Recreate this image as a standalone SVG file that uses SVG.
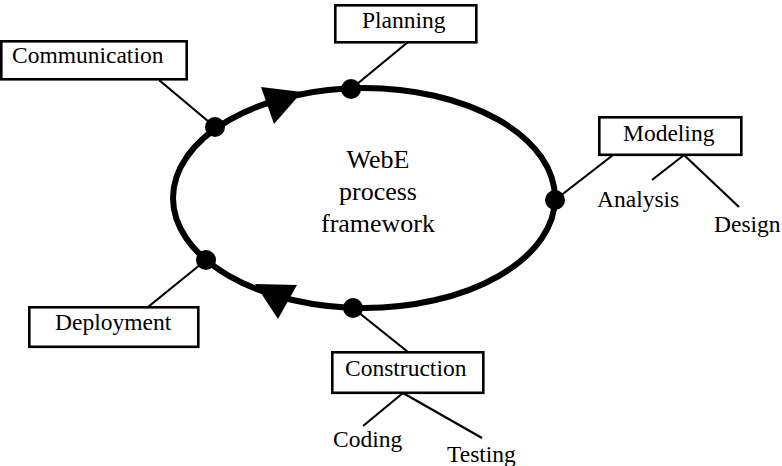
<svg xmlns="http://www.w3.org/2000/svg" width="782" height="466" viewBox="0 0 782 466">
<style>
.box{fill:#fff;stroke:#000;stroke-width:2.6}
.t{font-family:"Liberation Serif","Times New Roman",serif;font-size:23.5px;fill:#000}
.c{font-family:"Liberation Serif","Times New Roman",serif;font-size:26px;fill:#000;text-anchor:middle}
.ln{stroke:#000;stroke-width:2.2;fill:none}
.dot{fill:#000}
</style>
<rect width="782" height="466" fill="#fff"/>
<g id="cycle">
<ellipse cx="364" cy="198" rx="191" ry="110" fill="none" stroke="#000" stroke-width="6"/>
<polygon points="261,87 302,92 274,124" fill="#000"/>
<polygon points="255,284 297,285 278,319" fill="#000"/>
<text class="c" x="378" y="168">WebE</text>
<text class="c" x="378" y="200">process</text>
<text class="c" x="378" y="232">framework</text>
</g>
<g id="connectors">
<line class="ln" x1="159" y1="80" x2="215" y2="127"/>
<line class="ln" x1="351" y1="89" x2="408" y2="42"/>
<line class="ln" x1="555" y1="200" x2="613" y2="155"/>
<line class="ln" x1="684" y1="155" x2="652" y2="180" stroke-width="2.6"/>
<line class="ln" x1="684" y1="155" x2="739" y2="207" stroke-width="2.6"/>
<line class="ln" x1="206" y1="260" x2="148" y2="307"/>
<line class="ln" x1="353" y1="308" x2="408" y2="352"/>
<line class="ln" x1="403" y1="393" x2="363" y2="426" stroke-width="2.6"/>
<line class="ln" x1="403" y1="393" x2="482" y2="438" stroke-width="2.6"/>
</g>
<g id="dots">
<circle class="dot" cx="215" cy="127" r="10"/>
<circle class="dot" cx="351" cy="89" r="10"/>
<circle class="dot" cx="555" cy="200" r="10"/>
<circle class="dot" cx="206" cy="260" r="10"/>
<circle class="dot" cx="353" cy="308" r="10"/>
</g>
<g id="communication">
<rect class="box" x="1.3" y="41.3" width="185.4" height="38"/>
<text class="t" x="12" y="63">Communication</text>
</g>
<g id="planning">
<rect class="box" x="335.3" y="5.3" width="141" height="37"/>
<text class="t" x="362" y="28">Planning</text>
</g>
<g id="modeling">
<rect class="box" x="599.3" y="117.3" width="142" height="37.5"/>
<text class="t" x="623" y="141">Modeling</text>
</g>
<g id="analysis"><text class="t" x="597" y="207">Analysis</text></g>
<g id="design"><text class="t" x="714" y="232">Design</text></g>
<g id="deployment">
<rect class="box" x="29.3" y="307.3" width="169" height="39.5"/>
<text class="t" x="55" y="330">Deployment</text>
</g>
<g id="construction">
<rect class="box" x="332.3" y="352.3" width="151" height="40.5"/>
<text class="t" x="345" y="376">Construction</text>
</g>
<g id="coding"><text class="t" x="333" y="447">Coding</text></g>
<g id="testing"><text class="t" x="447" y="462">Testing</text></g>
</svg>
